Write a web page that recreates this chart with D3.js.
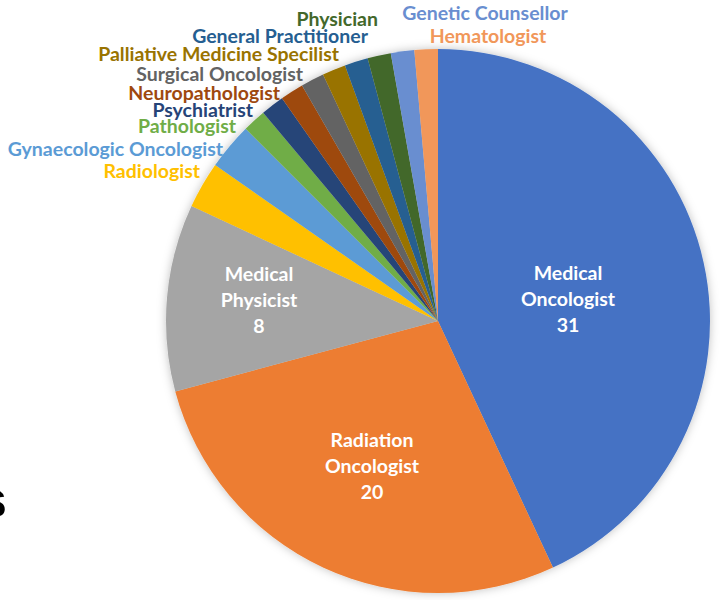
<!DOCTYPE html>
<html>
<head>
<meta charset="utf-8">
<script src="https://cdn.jsdelivr.net/npm/d3@7"></script>
<style>
  body { margin: 0; background: #fff; }
  svg { display: block; }
  text { font-family: Lato, "Open Sans", sans-serif; font-weight: bold; }
</style>
</head>
<body>
<div id="chart"></div>
<script>
// specialties, clockwise from 12 o'clock
const categories = ["Medical Oncologist", "Radiation Oncologist", "Medical Physicist",
  "Radiologist", "Gynaecologic Oncologist", "Pathologist", "Psychiatrist",
  "Neuropathologist", "Surgical Oncologist", "Palliative Medicine Specilist",
  "General Practitioner", "Physician", "Genetic Counsellor", "Hematologist"];
const counts = [31, 20, 8, 2, 2, 1, 1, 1, 1, 1, 1, 1, 1, 1];
const colors = ["#4472C4", "#ED7D31", "#A5A5A5", "#FFC000", "#5B9BD5", "#70AD47",
  "#264478", "#9E480E", "#636363", "#997300", "#255E91", "#43682B", "#698ED0", "#F1975A"];

// big slices get their label inside: [lines, x, first baseline]
const insideLabels = {
  "Medical Oncologist": [["Medical", "Oncologist"], 568, 280],
  "Radiation Oncologist": [["Radiation", "Oncologist"], 372, 447],
  "Medical Physicist": [["Medical", "Physicist"], 259, 281]
};
// outside label anchors: [x, baseline, anchor]
const outsidePos = {
  "Radiologist": [200, 178, "end"],
  "Gynaecologic Oncologist": [223, 156, "end"],
  "Pathologist": [236, 133, "end"],
  "Psychiatrist": [253, 117, "end"],
  "Neuropathologist": [280, 100, "end"],
  "Surgical Oncologist": [303, 81, "end"],
  "Palliative Medicine Specilist": [339, 61, "end"],
  "General Practitioner": [368, 43, "end"],
  "Physician": [378, 26, "end"],
  "Genetic Counsellor": [485, 20, "middle"],
  "Hematologist": [488, 43, "middle"]
};

const W = 721, H = 600;
const cx = 438, cy = 321, radius = 272;
const fontSize = "19.5px";

const svg = d3.select("#chart").append("svg").attr("width", W).attr("height", H);

const defs = svg.append("defs");
defs.append("filter").attr("id", "shadow")
    .attr("x", "-10%").attr("y", "-10%").attr("width", "120%").attr("height", "120%")
  .append("feDropShadow")
    .attr("dx", 0).attr("dy", 0).attr("stdDeviation", 5)
    .attr("flood-color", "#000").attr("flood-opacity", 0.25);

// slide text cut off at the left edge
svg.append("text").attr("x", 7).attr("y", 517).attr("text-anchor", "end")
  .style("font-family", "Liberation Sans, Arial, sans-serif")
  .style("font-size", "52px").attr("fill", "#000").text("s");

const data = categories.map((c, i) => ({ name: c, value: counts[i], color: colors[i] }));

const pie = d3.pie().value(d => d.value).sort(null);
const arc = d3.arc().innerRadius(0).outerRadius(radius);

const g = svg.append("g").attr("transform", `translate(${cx},${cy})`);

g.append("g").attr("filter", "url(#shadow)")
  .selectAll("path").data(pie(data)).enter().append("path")
    .attr("d", arc)
    .attr("fill", d => d.data.color);

// inside labels
data.forEach(d => {
  const lab = insideLabels[d.name];
  if (!lab) return;
  const t = svg.append("text").attr("text-anchor", "middle").attr("fill", "#fff")
    .style("font-size", fontSize);
  lab[0].concat([String(d.value)]).forEach((l, i) => {
    t.append("tspan").attr("x", lab[1]).attr("y", lab[2] + i * 26).text(l);
  });
});

// outside labels
data.forEach(d => {
  const p = outsidePos[d.name];
  if (!p) return;
  svg.append("text").attr("x", p[0]).attr("y", p[1])
    .attr("text-anchor", p[2]).attr("fill", d.color)
    .style("font-size", fontSize).text(d.name);
});
</script>
</body>
</html>
